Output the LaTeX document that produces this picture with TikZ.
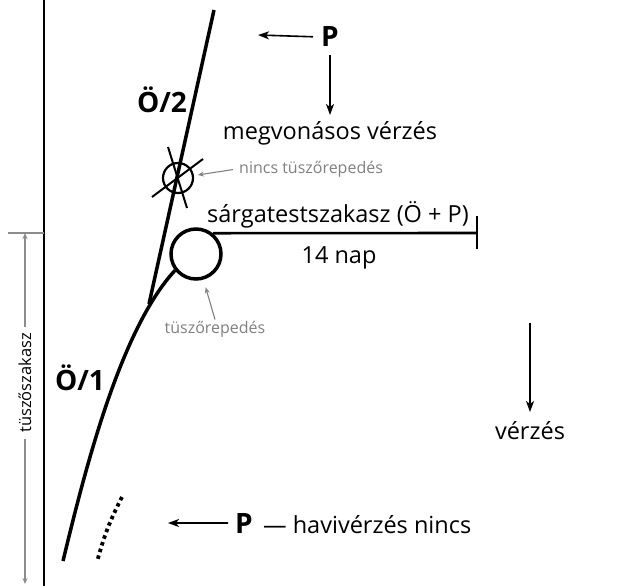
\documentclass[tikz,border=0pt]{standalone}
\usepackage{fontspec}
\setmainfont{Open Sans}
\usepackage{xcolor}
\usepackage{tikz}
\usetikzlibrary{calc}
\usetikzlibrary{positioning, arrows.meta}

\begin{document}
\begin{tikzpicture}[
    x=1pt, y=-1pt,
    txt/.style={font=\fontsize{23.5}{27}\selectfont, inner sep=1pt},
    big/.style={font=\fontsize{28}{32}\selectfont\bfseries, inner sep=1pt},
    small/.style={font=\fontsize{16}{19}\selectfont, text=black!50, inner sep=1pt},
    arrow/.style={-{Stealth[length=11pt, width=8pt, inset=3pt]}, line width=1.6pt},
    thin arrow/.style={-{Stealth[length=6pt, width=5pt, inset=2pt]}, line width=1.1pt, black!50},
    cycle/.style={line width=3.5pt}
]
    \useasboundingbox (0,0) rectangle (639,586);

    % Axis and follicular phase bracket
    \coordinate (axtop) at (44,0);
    \coordinate (axbot) at (44,586);
    \draw [line width=2.2pt] (axtop) -- (axbot);
    \coordinate (brl) at (8,233);
    \coordinate (bra) at (25,233);
    \coordinate (brb) at (25,584);
    \draw [black!45, line width=1.2pt] (brl) -- (axtop |- brl);
    \draw [{Stealth[length=6pt, width=5pt]}-{Stealth[length=6pt, width=5pt]}, black!45, line width=1.2pt]
        (bra) -- node [font=\fontsize{16.5}{19}\selectfont, text=black, rotate=90, fill=white, pos=0.427, inner xsep=6pt] {tüszőszakasz} (brb);

    % Follicle circles
    \node (cl) [circle, draw, line width=3.5pt, minimum size=50pt, inner sep=0pt] at (196,254) {};
    \node (ov) [circle, draw, line width=2.2pt, minimum size=30pt, inner sep=0pt] at (178,178) {};
    \draw [line width=2pt] ([shift={(-10,-31)}]ov.center) -- ([shift={(9,30)}]ov.center);
    \draw [line width=2pt] ([shift={(-26,19)}]ov.center) -- ([shift={(25,-19)}]ov.center);

    % Cycle curves O/1 and O/2
    \coordinate (base) at (63,561);
    \coordinate (junc) at (149,304);
    \coordinate (top)  at (214,10);
    \draw [cycle] (base) .. controls (85,470) and (120,330) .. (cl.218);
    \draw [cycle] (junc) -- (top);
    \node (o1) [big, anchor=base] at (80,390) {Ö/1};
    \node (o2) [big, anchor=base] at (162,112) {Ö/2};

    % Missing bleeding (dotted)
    \coordinate (da) at (122,497);
    \coordinate (db) at (97,562);
    \draw [line width=3.8pt, dash pattern=on 3.5pt off 3.5pt] (da) to [bend right=6] (db);

    % Luteal phase
    \coordinate (lend) at (477,233);
    \draw [line width=2.6pt] (cl.51) -- (lend);
    \draw [line width=2pt] ([yshift=-16]lend) -- ([yshift=17]lend);
    \node (lut) [txt, anchor=base] at (338,222) {sárgatestszakasz (Ö + P)};
    \node (day) [txt, anchor=base] at (339,263) {14 nap};

    % Grey notes
    \node (nt) [small, anchor=base west] at (238,173) {nincs tüszőrepedés};
    \node (tr) [small, anchor=base] at (215,333) {tüszőrepedés};
    \draw [thin arrow, shorten <=5pt, shorten >=4pt] (nt.west) -- (ov);
    \draw [thin arrow, shorten >=8pt] (tr.north) -- (cl);

    % Top: withdrawal bleeding
    \node (ptop) [big, anchor=base] at (330,47) {P};
    \coordinate (ptip) at (258,35);
    \draw [arrow, shorten <=7pt] (ptop.west) -- (ptip);
    \node (mv) [txt, anchor=base] at (330,139) {megvonásos vérzés};
    \coordinate (mtip) at (ptop.south |- 0,115);
    \draw [arrow, shorten <=7pt] (ptop.south) -- (mtip);

    % Right: bleeding
    \node (vz) [txt, anchor=base] at (530,439) {vérzés};
    \coordinate (vtop) at (530,323);
    \coordinate (vtip) at (530,412);
    \draw [arrow] (vtop) -- (vtip);

    % Bottom: no bleeding
    \node (pb) [big, anchor=base] at (244,533) {P};
    \coordinate (pbtip) at (168,523);
    \draw [arrow, shorten <=6pt] (pb.west) -- (pbtip);
    \node (hv) [txt, anchor=base west] at (262,533) {— havivérzés nincs};

\end{tikzpicture}
\end{document}
